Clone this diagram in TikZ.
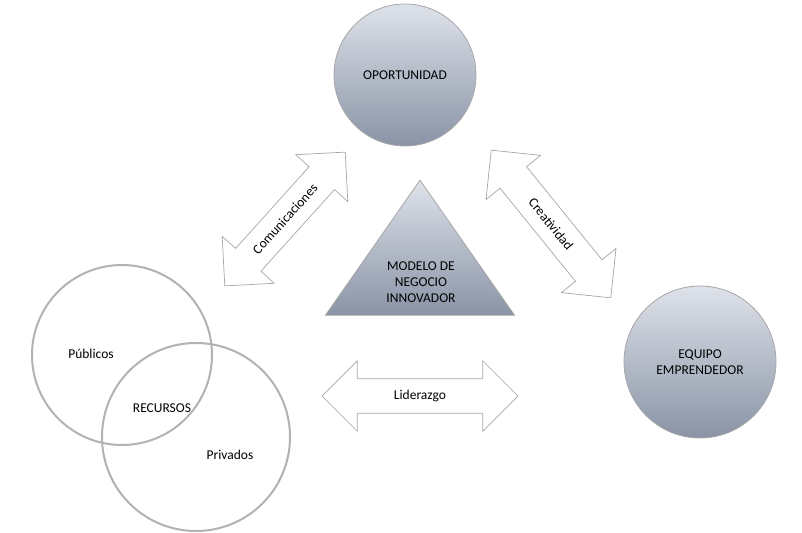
\documentclass[tikz,border=0pt]{standalone}
\usepackage{fontspec}
\setmainfont{Carlito}
\usetikzlibrary{shapes.arrows,shapes.geometric}
\definecolor{ctop}{RGB}{222,226,234}
\definecolor{cbot}{RGB}{138,148,166}
\begin{document}
\begin{tikzpicture}[x=1pt,y=-1pt,font=\fontsize{13.5}{16}\selectfont,
  bub/.style={circle,draw=gray!70,line width=0.8pt,top color=ctop,bottom color=cbot,align=center,minimum size=#1},
  dar/.style={double arrow,draw=gray!70,fill=white,line width=0.7pt,minimum height=#1,inner xsep=2pt,inner ysep=12pt,double arrow head extend=18pt},
  ring/.style={circle,draw=gray!60,line width=2pt,fill=none,minimum size=#1}]
\useasboundingbox (0,0) rectangle (802,532);
\node[bub=142pt] (op) at (405,75) {OPORTUNIDAD};
\node[bub=152pt] (eq) at (700,362) {EQUIPO\\EMPRENDEDOR};
\node[isosceles triangle,isosceles triangle apex angle=70,shape border rotate=90,draw=gray!70,line width=0.8pt,
  top color=ctop,bottom color=cbot,minimum height=135pt,inner sep=0pt] (tri) at (420,266) {};
\node[align=center] (tt) at (421,282) {MODELO DE\\NEGOCIO\\INNOVADOR};
\node[ring=180pt] (pu) at (122,355) {};
\node[ring=188pt] (pr) at (196,437) {};
\node (tpu) at (91,354) {Públicos};
\node (tre) at (162,408) {RECURSOS};
\node (tpr) at (230,455) {Privados};
\node[dar=180pt,rotate=48] (com) at (285,219) {Comunicaciones};
\node[dar=190pt,rotate=-51] (cre) at (551,224) {Creatividad};
\node[dar=196pt,inner ysep=11pt] (lid) at (420,396) {Liderazgo};
\end{tikzpicture}
\end{document}
